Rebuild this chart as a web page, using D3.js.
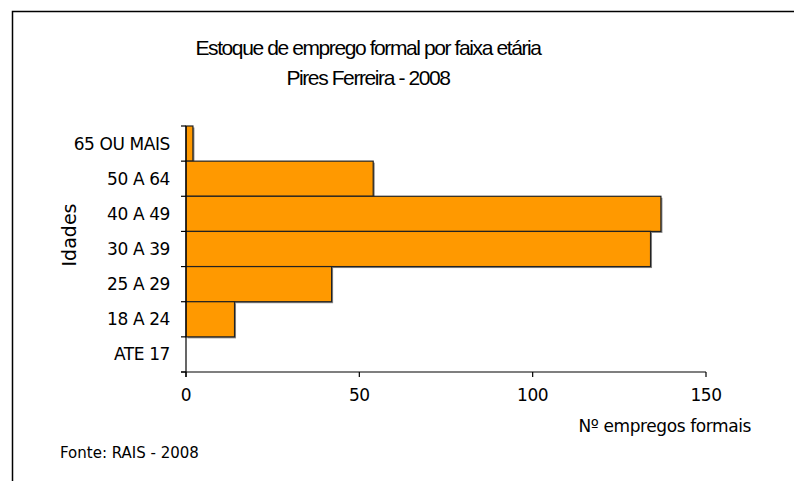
<!DOCTYPE html>
<html>
<head>
<meta charset="utf-8">
<script src="https://cdn.jsdelivr.net/npm/d3@7"></script>
<style>
  body { margin: 0; background: #fff; }
  svg text { fill: #000; }
  .lbl { font-family: "DejaVu Sans", Verdana, sans-serif; font-size: 17px; letter-spacing: -0.4px; }
  .title { font-family: "Liberation Sans", Arial, sans-serif; font-size: 21px; letter-spacing: -1.4px; }
</style>
</head>
<body>
<svg id="myGraph" width="794" height="481"></svg>
<script>
// dados
var categorias = ["65 OU MAIS", "50 A 64", "40 A 49", "30 A 39", "25 A 29", "18 A 24", "ATE 17"];
var valores = [2, 54, 137, 134, 42, 14, 0];
var ticksX = [0, 50, 100, 150];

const LEFT = 186, RIGHT = 706, TOP = 126, BOTTOM = 372;

var svg = d3.select("#myGraph");

// moldura (sem lado direito nem inferior)
svg.append("path")
  .attr("d", "M12.5,481 V11.5 H794")
  .attr("fill", "none")
  .attr("stroke", "#000")
  .attr("stroke-width", 1.5);

var xscale = d3.scaleLinear().domain([0, 150]).range([LEFT, RIGHT]);
var yscale = d3.scaleBand().domain(categorias).range([TOP, BOTTOM]).padding(0);

// sombra das barras
svg.selectAll(".sombra")
  .data(valores)
  .enter()
  .append("rect")
  .attr("x", xscale(0) + 1.5)
  .attr("y", function(d, i){ return yscale(categorias[i]) + 1.5; })
  .attr("width", function(d){ return d > 0 ? xscale(d) - xscale(0) : 0; })
  .attr("height", yscale.bandwidth())
  .attr("fill", "#888");

// barras
svg.selectAll(".bar")
  .data(valores)
  .enter()
  .append("rect")
  .attr("class", "bar")
  .attr("x", xscale(0))
  .attr("y", function(d, i){ return yscale(categorias[i]); })
  .attr("width", function(d){ return xscale(d) - xscale(0); })
  .attr("height", yscale.bandwidth())
  .attr("fill", function(d){ return d > 0 ? "#ff9900" : "none"; })
  .attr("stroke", function(d){ return d > 0 ? "#222" : "none"; })
  .attr("stroke-width", 1.2);

// eixo Y
var axisY = svg.append("g")
  .attr("transform", "translate(" + LEFT + ",0)");
axisY.append("line")
  .attr("x1", 0).attr("x2", 0)
  .attr("y1", TOP).attr("y2", BOTTOM + 5)
  .attr("stroke", "#000").attr("stroke-width", 1.2);
var bordas = categorias.map(function(c){ return yscale(c); }).concat([BOTTOM]);
axisY.selectAll(".tk")
  .data(bordas)
  .enter()
  .append("line")
  .attr("x1", -5).attr("x2", 0)
  .attr("y1", function(d){ return d; }).attr("y2", function(d){ return d; })
  .attr("stroke", "#000").attr("stroke-width", 1.2);
axisY.selectAll(".ylab")
  .data(categorias)
  .enter()
  .append("text")
  .attr("class", "lbl")
  .attr("x", -16)
  .attr("y", function(d){ return yscale(d) + yscale.bandwidth() / 2; })
  .attr("dy", "0.35em")
  .attr("text-anchor", "end")
  .text(function(d){ return d; });

// eixo X
var axisX = svg.append("g")
  .attr("transform", "translate(0," + BOTTOM + ")");
axisX.append("line")
  .attr("x1", LEFT - 5).attr("x2", RIGHT)
  .attr("y1", 0).attr("y2", 0)
  .attr("stroke", "#000").attr("stroke-width", 1.2);
axisX.selectAll(".tk")
  .data(ticksX)
  .enter()
  .append("line")
  .attr("x1", function(d){ return xscale(d); }).attr("x2", function(d){ return xscale(d); })
  .attr("y1", 0).attr("y2", 5)
  .attr("stroke", "#000").attr("stroke-width", 1.2);
axisX.selectAll(".xlab")
  .data(ticksX)
  .enter()
  .append("text")
  .attr("class", "lbl")
  .attr("x", function(d){ return xscale(d); })
  .attr("y", 29)
  .attr("text-anchor", "middle")
  .text(function(d){ return d; });

// títulos
svg.append("text").attr("class", "title")
  .attr("x", 368).attr("y", 55).attr("text-anchor", "middle")
  .text("Estoque de emprego formal por faixa etária");
svg.append("text").attr("class", "title")
  .attr("x", 368).attr("y", 85).attr("text-anchor", "middle")
  .text("Pires Ferreira - 2008");

svg.append("text").attr("class", "lbl")
  .attr("transform", "translate(76,235) rotate(-90)")
  .attr("text-anchor", "middle")
  .style("font-size", "19px")
  .style("letter-spacing", "0px")
  .text("Idades");

svg.append("text").attr("class", "lbl")
  .attr("x", 751).attr("y", 432).attr("text-anchor", "end")
  .text("Nº empregos formais");

svg.append("text").attr("class", "lbl")
  .attr("x", 60).attr("y", 458)
  .style("font-size", "15px")
  .style("letter-spacing", "0px")
  .text("Fonte: RAIS - 2008");
</script>
</body>
</html>
